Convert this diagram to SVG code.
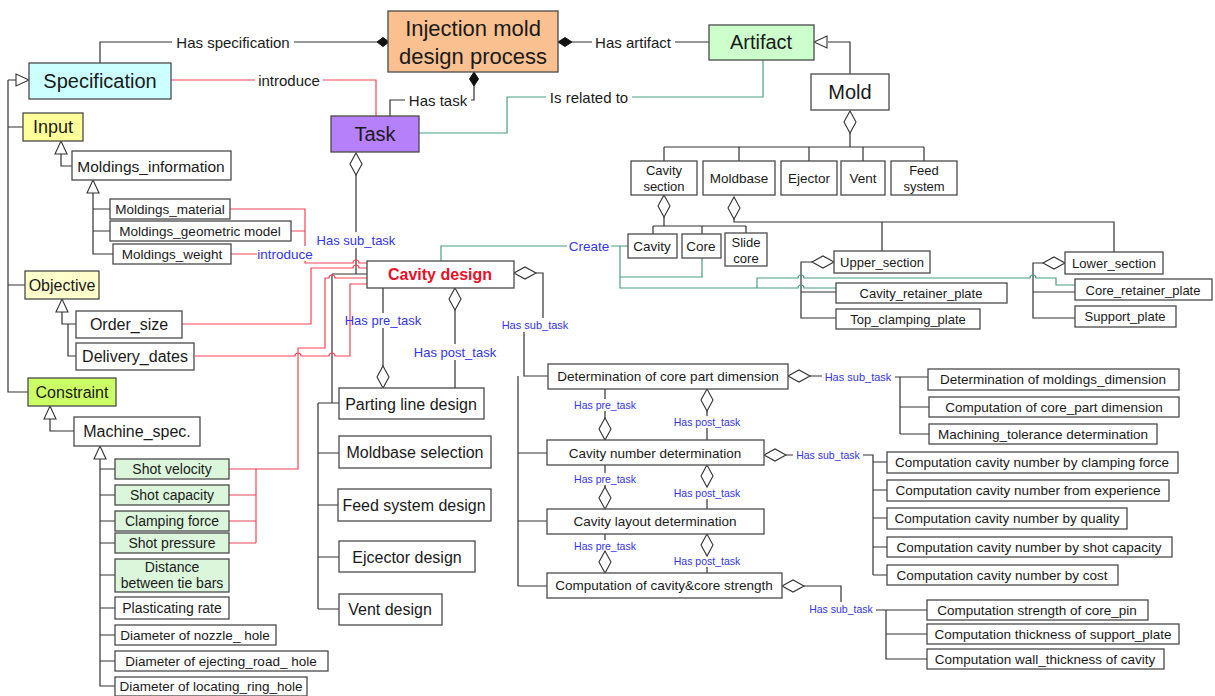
<svg xmlns="http://www.w3.org/2000/svg" width="1215" height="696" viewBox="0 0 1215 696">
<style>
.t{font-family:"Liberation Sans",Arial,sans-serif;text-anchor:middle;dominant-baseline:central;fill:#1a1a1a}
.f22{font-size:22px}.f20{font-size:20px}.f18{font-size:18px}.f16{font-size:16px}.f155{font-size:15.5px}.f15{font-size:15px}.f14{font-size:14px}.f135{font-size:13.5px}.f13{font-size:13px}.f11{font-size:11px}.f105{font-size:10.5px}
.bl{fill:#3434ee}
.rt{fill:#e8102a;font-weight:bold}
.bx{fill:#fff;stroke:#4a4a4a;stroke-width:1.3}
.ln{fill:none;stroke:#333;stroke-width:1.2}
.rd{fill:none;stroke:#f24456;stroke-width:1.2}
.gr{fill:none;stroke:#4a9e80;stroke-width:1.2}
.hol{fill:#fff;stroke:#333;stroke-width:1.1}
.fil{fill:#111;stroke:#111;stroke-width:1}
</style>
<defs>
<path id="dv" d="M0,0 L6,11 L0,22 L-6,11 Z"/>
<path id="dh" d="M0,0 L11,-6 L22,0 L11,6 Z"/>
<path id="tu" d="M0,0 L6,13 L-6,13 Z"/>
</defs>
<rect width="1215" height="696" fill="#fff"/>
<g id="connectors">
<path class="ln" d="M100,63 V42 H172 M294,42 H377 M572,42 H592 M675,42 H709 M474,86 V100 H471 M405,100 H390 V116 M828,42 H850 V74 M850,133 V147 M664,147 H924 M664,147 V161 M739,147 V161 M809,147 V161 M863,147 V161 M924,147 V161 M664,217 V226 M653,226 H746 M653,226 V234 M702,226 V234 M746,226 V233 M734,219 V222 H1114 V252 M882,222 V251 M812,262 H801 V318 H836 M801,292 H836 M1043,263 H1033 V318 H1075 M1033,292 H1075"/>
<path class="ln" d="M8,80 H16 M8,80 V392 H28 M8,127 H23 M8,285 H25 M61,154 V166 H72 M93,193 V254 H113 M93,209 H110 M93,231 H110 M62,312 V324 H76 M68,324 V356 H76 M50,419 V431 H74 M100,459 V686 H115 M100,469 H115 M100,495 H115 M100,521 H115 M100,543 H115 M100,575 H115 M100,608 H115 M100,635 H115 M100,661 H115"/>
<path class="ln" d="M356,175 V232 M356,248 V274 M332,274 H367 M332,274 V403 H339 M318,403 H332 M318,403 V609 M318,453 H339 M318,505 H338 M318,557 H339 M318,609 H339 M383,288 V313 M383,328 V366 M455,310 V344 M455,360 V388 M536,273 H543 V318 M524,332 V376 H548 M518,376 V586 M518,453 H547 M518,521 H547 M518,586 H547"/>
<path class="ln" d="M605,389 V399 M605,411 V419 M707,411 V416 M707,428 V440 M605,465 V473 M605,485 V487 M707,499 V509 M605,534 V540 M707,567 V573 M810,376 H822 M895,377 H928 M900,377 V434 M900,407 H929 M900,434 H929 M786,455 H793 M863,455 H873 V575 M873,462 H887 M873,490 H887 M873,518 H887 M873,547 H887 M873,575 H887 M804,586 H841 V602 M876,610 H927 M886,610 V659 H927 M886,634 H927"/>
<path class="rd" d="M171,80 H255 M323,80 H376 V116 M230,209 H305 V246 M291,231 H305 M231,254 H257 M305,261 V263 H353 a3,3 0 0 1 6,0 H367 M182,324 H311 V268 H353 a3,3 0 0 1 6,0 H367 M229,469 H298 V348 H325 V278 H329 a3,3 0 0 1 6,0 H367 M195,356 H295 a3,3 0 0 1 6,0 H329 a3,3 0 0 1 6,0 H350 V284 H367 M256,469 V543 M229,495 H256 M229,521 H256 M229,543 H256"/>
<path class="gr" d="M763,60 V97 H632 M546,97 H507 V133 H419 M441,261 V246 H567 M611,246 H628 M620,246 V288 H798 a3,3 0 0 1 6,0 H836 M702,258 V277 H620 M757,288 V278 H798 a3,3 0 0 1 6,0 H1030 a3,3 0 0 1 6,0 H1056 V285 H1075"/>
<polygon class="fil" points="377,42 383,37.5 389,42 383,46.5"/>
<polygon class="fil" points="558,42 565,37.5 572,42 565,46.5"/>
<polygon class="fil" points="474,72 478.5,79 474,86 469.5,79"/>
<use href="#dv" class="hol" x="356" y="153"/>
<use href="#dv" class="hol" x="850" y="111"/>
<use href="#dv" class="hol" x="664" y="195"/>
<use href="#dv" class="hol" x="734" y="197"/>
<use href="#dv" class="hol" x="383" y="366"/>
<use href="#dv" class="hol" x="455" y="288"/>
<use href="#dv" class="hol" x="605" y="418"/>
<use href="#dv" class="hol" x="707" y="389"/>
<use href="#dv" class="hol" x="605" y="487"/>
<use href="#dv" class="hol" x="707" y="465"/>
<use href="#dv" class="hol" x="605" y="551"/>
<use href="#dv" class="hol" x="707" y="534"/>
<use href="#dh" class="hol" x="514" y="273"/>
<use href="#dh" class="hol" x="788" y="376"/>
<use href="#dh" class="hol" x="764" y="455"/>
<use href="#dh" class="hol" x="782" y="586"/>
<use href="#dh" class="hol" x="812" y="262"/>
<use href="#dh" class="hol" x="1043" y="263"/>
<polygon class="hol" points="29,80 16,74 16,86"/>
<polygon class="hol" points="814,42 827,36 827,48"/>
<use href="#tu" class="hol" x="61" y="141"/>
<use href="#tu" class="hol" x="93" y="180"/>
<use href="#tu" class="hol" x="62" y="299"/>
<use href="#tu" class="hol" x="50" y="406"/>
<use href="#tu" class="hol" x="100" y="446"/>
<text class="t f15" x="233" y="42">Has specification</text>
<text class="t f15" x="633" y="42">Has artifact</text>
<text class="t f15" x="438" y="100">Has task</text>
<text class="t f15" x="289" y="80">introduce</text>
<text class="t f15" x="589" y="97">Is related to</text>
<text class="t f13 bl" x="356" y="240">Has sub_task</text>
<text class="t f135 bl" x="285" y="254">introduce</text>
<text class="t f135 bl" x="589" y="246">Create</text>
<text class="t f13 bl" x="383" y="320">Has pre_task</text>
<text class="t f13 bl" x="455" y="352">Has post_task</text>
<text class="t f11 bl" x="535" y="325">Has sub_task</text>
<text class="t f105 bl" x="605" y="405">Has pre_task</text>
<text class="t f105 bl" x="605" y="479">Has pre_task</text>
<text class="t f105 bl" x="605" y="546">Has pre_task</text>
<text class="t f105 bl" x="707" y="422">Has post_task</text>
<text class="t f105 bl" x="707" y="493">Has post_task</text>
<text class="t f105 bl" x="707" y="561">Has post_task</text>
<text class="t f11 bl" x="858" y="377">Has sub_task</text>
<text class="t f105 bl" x="828" y="455">Has sub_task</text>
<text class="t f105 bl" x="841" y="609">Has sub_task</text>
</g>
<g id="n-process"><rect class="bx" x="388" y="11" width="170" height="61" style="fill:#fac08f"/><text class="t f22" x="473" y="28">Injection mold</text><text class="t f22" x="473" y="56">design process</text></g>
<g id="n-specification"><rect class="bx" x="29" y="63" width="142" height="36" style="fill:#ccffff"/><text class="t f20" x="100" y="81">Specification</text></g>
<g id="n-task"><rect class="bx" x="331" y="116" width="88" height="36" style="fill:#b580fa"/><text class="t f20" x="375" y="134">Task</text></g>
<g id="n-artifact"><rect class="bx" x="709" y="25" width="105" height="35" style="fill:#ccffcc"/><text class="t f20" x="761" y="42">Artifact</text></g>
<g id="n-mold"><rect class="bx" x="811" y="74" width="78" height="36"/><text class="t f20" x="850" y="92">Mold</text></g>
<g id="n-cavity-section"><rect class="bx" x="631" y="161" width="66" height="34"/><text class="t f13" x="664" y="170">Cavity</text><text class="t f13" x="664" y="186">section</text></g>
<g id="n-moldbase"><rect class="bx" x="703" y="161" width="72" height="34"/><text class="t f135" x="739" y="178">Moldbase</text></g>
<g id="n-ejector"><rect class="bx" x="781" y="161" width="56" height="34"/><text class="t f135" x="809" y="178">Ejector</text></g>
<g id="n-vent"><rect class="bx" x="841" y="161" width="44" height="34"/><text class="t f135" x="863" y="178">Vent</text></g>
<g id="n-feed-system"><rect class="bx" x="891" y="161" width="66" height="34"/><text class="t f13" x="924" y="170">Feed</text><text class="t f13" x="924" y="186">system</text></g>
<g id="n-cavity"><rect class="bx" x="628" y="234" width="49" height="24"/><text class="t f135" x="652" y="246">Cavity</text></g>
<g id="n-core"><rect class="bx" x="682" y="234" width="39" height="24"/><text class="t f135" x="701" y="246">Core</text></g>
<g id="n-slide-core"><rect class="bx" x="725" y="233" width="42" height="33"/><text class="t f13" x="746" y="242">Slide</text><text class="t f13" x="746" y="258">core</text></g>
<g id="n-upper-section"><rect class="bx" x="834" y="251" width="96" height="22"/><text class="t f13" x="882" y="262">Upper_section</text></g>
<g id="n-lower-section"><rect class="bx" x="1065" y="252" width="98" height="22"/><text class="t f13" x="1114" y="263">Lower_section</text></g>
<g id="n-cavity-retainer"><rect class="bx" x="836" y="283" width="171" height="20"/><text class="t f13" x="921" y="293">Cavity_retainer_plate</text></g>
<g id="n-top-clamping"><rect class="bx" x="836" y="309" width="144" height="20"/><text class="t f13" x="908" y="319">Top_clamping_plate</text></g>
<g id="n-core-retainer"><rect class="bx" x="1075" y="279" width="137" height="21"/><text class="t f13" x="1143" y="290">Core_retainer_plate</text></g>
<g id="n-support-plate"><rect class="bx" x="1075" y="306" width="101" height="21"/><text class="t f13" x="1125" y="316">Support_plate</text></g>
<g id="n-input"><rect class="bx" x="23" y="113" width="60" height="28" style="fill:#ffff99"/><text class="t f18" x="53" y="127">Input</text></g>
<g id="n-moldings-information"><rect class="bx" x="72" y="151" width="159" height="29"/><text class="t f155" x="151" y="166">Moldings_information</text></g>
<g id="n-moldings-material"><rect class="bx" x="110" y="199" width="120" height="20"/><text class="t f135" x="170" y="209">Moldings_material</text></g>
<g id="n-moldings-geometric"><rect class="bx" x="110" y="221" width="181" height="20"/><text class="t f135" x="200" y="231">Moldings_geometric model</text></g>
<g id="n-moldings-weight"><rect class="bx" x="113" y="244" width="118" height="20"/><text class="t f135" x="172" y="254">Moldings_weight</text></g>
<g id="n-objective"><rect class="bx" x="25" y="271" width="74" height="28" style="fill:#ffffcc"/><text class="t f16" x="62" y="285">Objective</text></g>
<g id="n-order-size"><rect class="bx" x="76" y="311" width="106" height="27"/><text class="t f16" x="129" y="324">Order_size</text></g>
<g id="n-delivery-dates"><rect class="bx" x="76" y="343" width="118" height="27"/><text class="t f16" x="135" y="356">Delivery_dates</text></g>
<g id="n-constraint"><rect class="bx" x="28" y="378" width="88" height="28" style="fill:#ccff66"/><text class="t f16" x="72" y="392">Constraint</text></g>
<g id="n-machine-spec"><rect class="bx" x="74" y="417" width="126" height="29"/><text class="t f16" x="137" y="431">Machine_spec.</text></g>
<g id="n-shot-velocity"><rect class="bx" x="115" y="459" width="114" height="20" style="fill:#dcf6dc"/><text class="t f14" x="172" y="469">Shot velocity</text></g>
<g id="n-shot-capacity"><rect class="bx" x="115" y="485" width="114" height="20" style="fill:#dcf6dc"/><text class="t f14" x="172" y="495">Shot capacity</text></g>
<g id="n-clamping-force"><rect class="bx" x="115" y="511" width="114" height="20" style="fill:#dcf6dc"/><text class="t f14" x="172" y="521">Clamping force</text></g>
<g id="n-shot-pressure"><rect class="bx" x="115" y="533" width="114" height="20" style="fill:#dcf6dc"/><text class="t f14" x="172" y="543">Shot pressure</text></g>
<g id="n-distance"><rect class="bx" x="115" y="559" width="114" height="33" style="fill:#dcf6dc"/><text class="t f14" x="172" y="567">Distance</text><text class="t f14" x="172" y="583">between tie bars</text></g>
<g id="n-plasticating"><rect class="bx" x="115" y="597" width="114" height="22"/><text class="t f14" x="172" y="608">Plasticating rate</text></g>
<g id="n-nozzle"><rect class="bx" x="115" y="625" width="161" height="20"/><text class="t f135" x="195" y="635">Diameter of nozzle_ hole</text></g>
<g id="n-ejecting"><rect class="bx" x="115" y="651" width="213" height="20"/><text class="t f135" x="221" y="661">Diameter of ejecting_road_ hole</text></g>
<g id="n-locating"><rect class="bx" x="115" y="677" width="192" height="19"/><text class="t f135" x="211" y="686">Diameter of locating_ring_hole</text></g>
<g id="n-cavity-design"><rect class="bx" x="367" y="261" width="147" height="27"/><text class="t f16 rt" x="440" y="274">Cavity design</text></g>
<g id="n-parting"><rect class="bx" x="339" y="388" width="145" height="31"/><text class="t f16" x="411" y="404">Parting line design</text></g>
<g id="n-moldbase-sel"><rect class="bx" x="339" y="436" width="152" height="32"/><text class="t f16" x="415" y="452">Moldbase selection</text></g>
<g id="n-feed-design"><rect class="bx" x="338" y="489" width="153" height="32"/><text class="t f16" x="414" y="505">Feed system design</text></g>
<g id="n-ejector-design"><rect class="bx" x="339" y="541" width="136" height="31"/><text class="t f16" x="407" y="557">Ejcector design</text></g>
<g id="n-vent-design"><rect class="bx" x="339" y="594" width="103" height="31"/><text class="t f16" x="390" y="609">Vent design</text></g>
<g id="n-det-core"><rect class="bx" x="548" y="364" width="240" height="25"/><text class="t f135" x="668" y="376">Determination of core part dimension</text></g>
<g id="n-cav-number"><rect class="bx" x="547" y="440" width="217" height="25"/><text class="t f135" x="655" y="453">Cavity number determination</text></g>
<g id="n-cav-layout"><rect class="bx" x="547" y="509" width="217" height="25"/><text class="t f135" x="655" y="521">Cavity layout determination</text></g>
<g id="n-comp-strength"><rect class="bx" x="547" y="573" width="235" height="25"/><text class="t f135" x="664" y="585">Computation of cavity&amp;core strength</text></g>
<g id="n-det-moldings"><rect class="bx" x="928" y="369" width="251" height="21"/><text class="t f135" x="1053" y="379">Determination of moldings_dimension</text></g>
<g id="n-comp-core-part"><rect class="bx" x="929" y="397" width="250" height="20"/><text class="t f135" x="1054" y="407">Computation of core_part dimension</text></g>
<g id="n-machining"><rect class="bx" x="929" y="424" width="228" height="20"/><text class="t f135" x="1043" y="434">Machining_tolerance determination</text></g>
<g id="n-cn-clamping"><rect class="bx" x="887" y="452" width="291" height="21"/><text class="t f135" x="1032" y="462">Computation cavity number by clamping force</text></g>
<g id="n-cn-experience"><rect class="bx" x="887" y="480" width="282" height="21"/><text class="t f135" x="1028" y="490">Computation cavity number from experience</text></g>
<g id="n-cn-quality"><rect class="bx" x="887" y="508" width="240" height="21"/><text class="t f135" x="1007" y="518">Computation cavity number by quality</text></g>
<g id="n-cn-shot"><rect class="bx" x="887" y="537" width="285" height="20"/><text class="t f135" x="1029" y="547">Computation cavity number by shot capacity</text></g>
<g id="n-cn-cost"><rect class="bx" x="887" y="565" width="231" height="20"/><text class="t f135" x="1002" y="575">Computation cavity number by cost</text></g>
<g id="n-core-pin"><rect class="bx" x="927" y="600" width="221" height="20"/><text class="t f135" x="1037" y="610">Computation strength of core_pin</text></g>
<g id="n-support-thick"><rect class="bx" x="927" y="624" width="252" height="20"/><text class="t f135" x="1053" y="634">Computation thickness of support_plate</text></g>
<g id="n-wall-thick"><rect class="bx" x="927" y="649" width="237" height="20"/><text class="t f135" x="1045" y="659">Computation wall_thickness of cavity</text></g>
</svg>
